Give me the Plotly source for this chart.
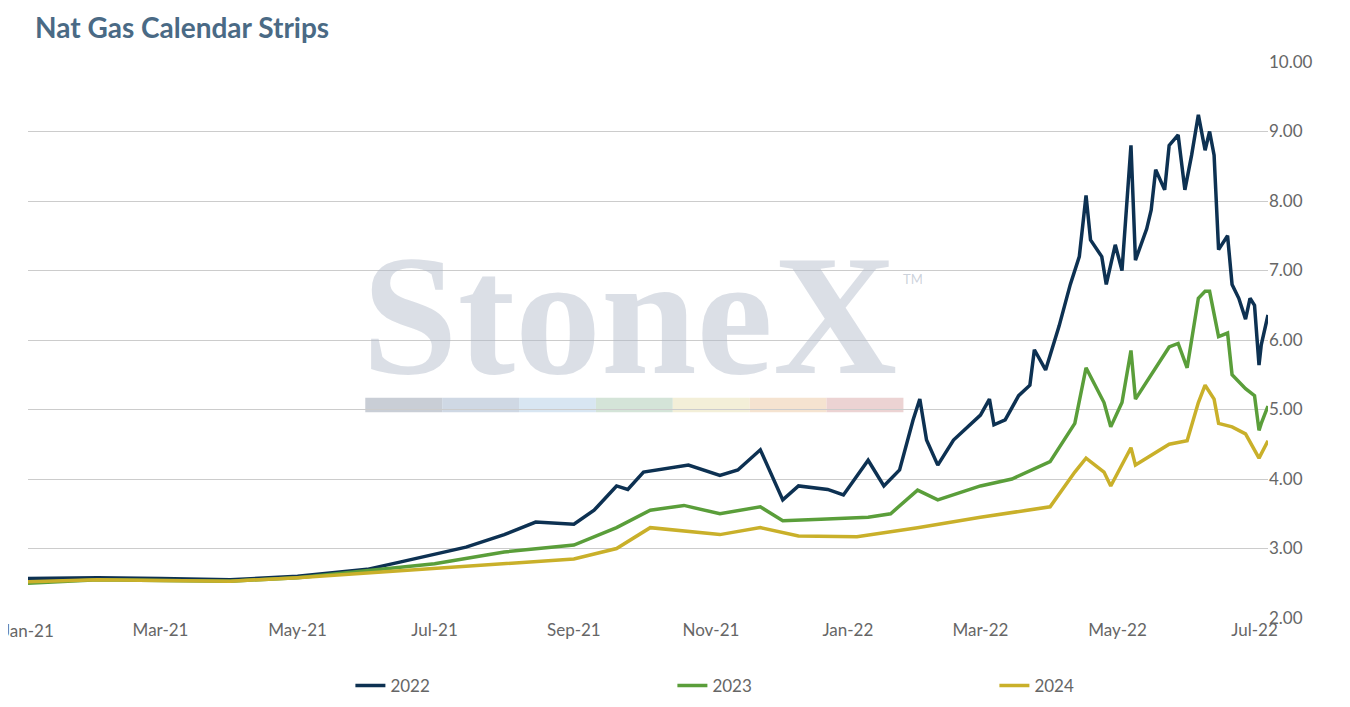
import plotly.graph_objects as go

d22 = ["2021-01-01","2021-02-01","2021-03-01","2021-04-01","2021-05-01","2021-06-01","2021-06-15","2021-07-01","2021-07-15","2021-08-01","2021-08-15","2021-09-01","2021-09-10","2021-09-20","2021-09-25","2021-10-02","2021-10-22","2021-11-05","2021-11-13","2021-11-23","2021-12-03","2021-12-10","2021-12-23","2021-12-30","2022-01-10","2022-01-17","2022-01-24","2022-01-30","2022-02-02","2022-02-05","2022-02-10","2022-02-17","2022-02-24","2022-03-01","2022-03-05","2022-03-07","2022-03-12","2022-03-18","2022-03-23","2022-03-25","2022-03-30","2022-04-05","2022-04-10","2022-04-14","2022-04-17","2022-04-19","2022-04-24","2022-04-26","2022-04-30","2022-05-03","2022-05-07","2022-05-09","2022-05-14","2022-05-16","2022-05-18","2022-05-22","2022-05-24","2022-05-28","2022-05-31","2022-06-03","2022-06-06","2022-06-09","2022-06-11","2022-06-13","2022-06-15","2022-06-19","2022-06-21","2022-06-24","2022-06-27","2022-06-29","2022-07-01","2022-07-03","2022-07-04","2022-07-07"]
v22 = [2.57,2.58,2.57,2.55,2.60,2.70,2.80,2.92,3.02,3.20,3.38,3.35,3.55,3.90,3.85,4.10,4.20,4.05,4.13,4.42,3.70,3.90,3.85,3.77,4.27,3.90,4.13,4.85,5.15,4.56,4.20,4.56,4.78,4.92,5.15,4.78,4.85,5.20,5.35,5.86,5.57,6.20,6.80,7.20,8.08,7.44,7.20,6.80,7.37,7.00,8.80,7.15,7.60,7.87,8.45,8.16,8.80,8.95,8.16,8.66,9.24,8.73,9.00,8.66,7.30,7.50,6.80,6.60,6.30,6.60,6.50,5.64,5.93,6.36]

d23 = ["2021-01-01","2021-02-01","2021-03-01","2021-04-01","2021-05-01","2021-06-01","2021-07-01","2021-08-01","2021-09-01","2021-09-20","2021-10-05","2021-10-20","2021-11-05","2021-11-23","2021-12-03","2021-12-20","2022-01-10","2022-01-20","2022-02-01","2022-02-10","2022-03-01","2022-03-15","2022-04-01","2022-04-12","2022-04-17","2022-04-25","2022-04-28","2022-05-03","2022-05-07","2022-05-09","2022-05-18","2022-05-24","2022-05-28","2022-06-01","2022-06-06","2022-06-09","2022-06-11","2022-06-15","2022-06-19","2022-06-21","2022-06-27","2022-07-01","2022-07-03","2022-07-04","2022-07-07"]
v23 = [2.50,2.55,2.54,2.53,2.58,2.68,2.78,2.95,3.05,3.30,3.55,3.62,3.50,3.60,3.40,3.42,3.45,3.50,3.84,3.70,3.90,4.00,4.25,4.80,5.60,5.10,4.75,5.10,5.85,5.15,5.60,5.90,5.95,5.60,6.60,6.70,6.70,6.05,6.10,5.50,5.30,5.20,4.70,4.80,5.05]

d24 = ["2021-01-01","2021-02-01","2021-03-01","2021-04-01","2021-05-01","2021-06-01","2021-07-01","2021-08-01","2021-09-01","2021-09-20","2021-10-05","2021-11-05","2021-11-23","2021-12-10","2022-01-05","2022-02-01","2022-03-01","2022-04-01","2022-04-12","2022-04-17","2022-04-25","2022-04-28","2022-05-07","2022-05-09","2022-05-24","2022-06-01","2022-06-06","2022-06-09","2022-06-13","2022-06-15","2022-06-21","2022-06-27","2022-07-03","2022-07-07"]
v24 = [2.52,2.55,2.54,2.53,2.58,2.65,2.72,2.78,2.85,3.00,3.30,3.20,3.30,3.18,3.17,3.30,3.45,3.60,4.10,4.30,4.10,3.90,4.45,4.20,4.50,4.55,5.10,5.35,5.15,4.80,4.75,4.65,4.30,4.55]

fig = go.Figure()
for name, x, y, c in [("2022", d22, v22, "#0d3152"), ("2023", d23, v23, "#5a9e3a"), ("2024", d24, v24, "#c9b02a")]:
    fig.add_trace(go.Scatter(x=x, y=y, name=name, mode="lines", line=dict(color=c, width=3.5)))

fig.add_annotation(text="<b>StoneX</b>", x=0.485, y=0.545, xref="paper", yref="paper", showarrow=False,
                   font=dict(family="Liberation Serif", size=172, color="rgba(175,185,200,0.45)"))
fig.add_annotation(text="TM", x=0.723, y=0.61, xref="paper", yref="paper", showarrow=False,
                   font=dict(size=13, color="rgba(170,180,195,0.6)"))
fig.add_annotation(text="Jan-21", x="2021-01-01", xref="x", y=0.0, yref="paper", yanchor="top",
                   showarrow=False, font=dict(size=17, color="#666666"))
cols = ["#c9ced6", "#cfd8e4", "#d8e6f2", "#d4e4d8", "#f3efd8", "#f5e3d0", "#ecd3d3"]
for i, c in enumerate(cols):
    fig.add_shape(type="rect", xref="paper", yref="paper", x0=0.272+i*0.062, x1=0.272+(i+1)*0.062,
                  y0=0.37, y1=0.396, fillcolor=c, line_width=0, layer="below")

fig.update_layout(
    width=1350, height=707, plot_bgcolor="white", paper_bgcolor="white",
    margin=dict(l=20, r=90, t=54, b=97, autoexpand=False),
    title=dict(text="<b>Nat Gas Calendar Strips</b>", x=0.02, xanchor="left", y=0.985, yanchor="top", yref="container",
               font=dict(family="Lato", size=28, color="#4a6a85")),
    font=dict(family="Lato", color="#666666", size=17),
    legend=dict(orientation="h", x=0.26, xanchor="left", y=-0.09, font=dict(size=17),
                entrywidth=277, entrywidthmode="pixels"),
    xaxis=dict(type="date", range=["2021-01-01", "2022-07-07"], dtick="M2", tick0="2021-01-01", tickformat="%b-%y",
               showgrid=False, showline=False, ticks=""),
    yaxis=dict(side="right", range=[2, 10], dtick=1, tickformat=".2f", gridcolor="#cccccc", zeroline=False, ticks=""),
)
fig.write_html("out.html")
